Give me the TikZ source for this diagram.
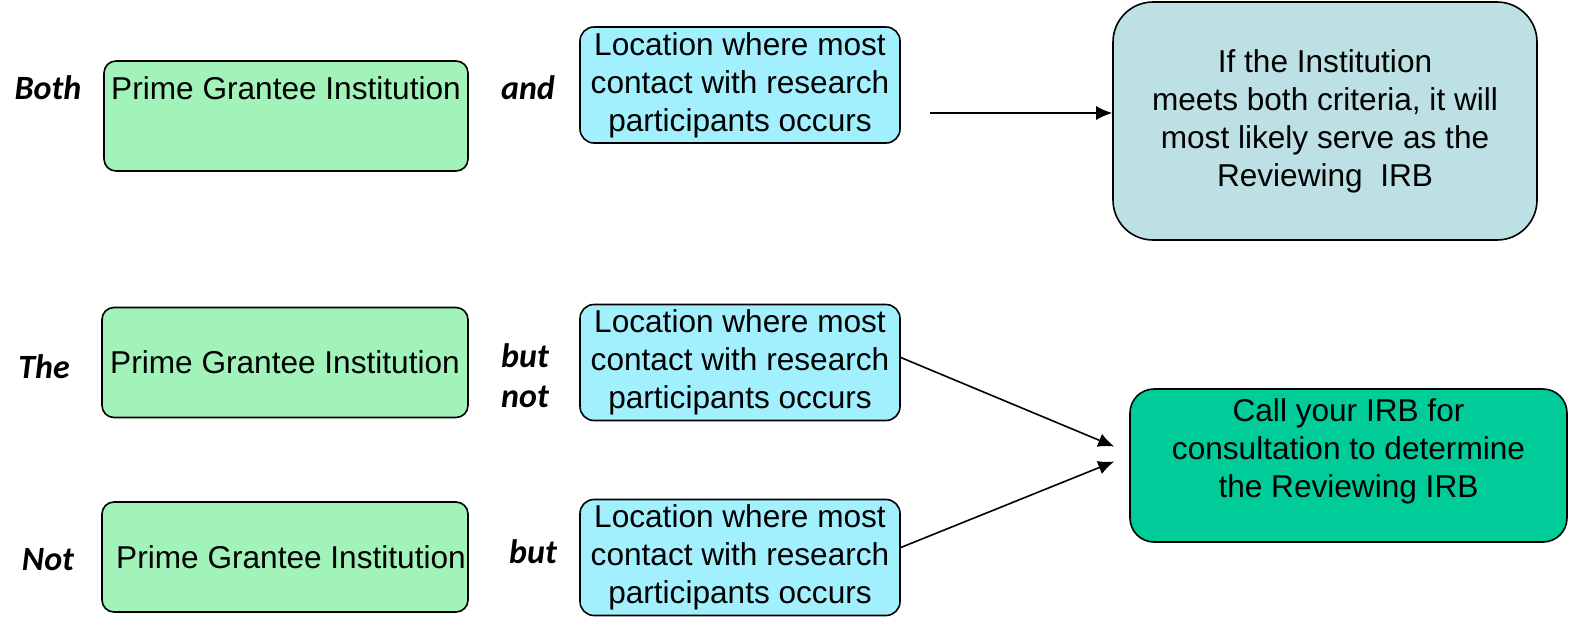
\documentclass[tikz,border=0pt]{standalone}
\usepackage{fontspec}
\setmainfont{Liberation Sans}
\newfontfamily\labelfont{Carlito}
\usetikzlibrary{arrows.meta}
\definecolor{grantgreen}{RGB}{161,243,186}
\definecolor{sitecyan}{RGB}{162,240,254}
\definecolor{outcomeblue}{RGB}{188,224,227}
\definecolor{consultgreen}{RGB}{0,204,153}

\begin{document}
\begin{tikzpicture}[x=0.5pt, y=-0.5pt, >={Latex[length=8pt,width=7pt]}]
 \tikzstyle{every node}=[inner sep=0pt, align=center, font=\fontsize{15.8}{19}\selectfont]
 \tikzstyle{box}=[draw, line width=0.8pt]
 \tikzstyle{grantee}=[box, fill=grantgreen, rounded corners=6pt, minimum width=183pt, minimum height=55pt]
 \tikzstyle{site}=[box, fill=sitecyan, rounded corners=7pt, minimum width=160pt, minimum height=58pt]
 \tikzstyle{word}=[font=\fontsize{17}{20}\selectfont\labelfont\bfseries\itshape]
 \useasboundingbox (0,0) rectangle (1574,618);

 % row 1: both criteria
 \node[word] (both) at (48,88) {Both};
 \node[grantee, text height=18.5pt, text depth=35.5pt, minimum width=182pt] (prime1) at (286,116) {Prime Grantee Institution};
 \node[word] (and) at (528,88) {and};
 \node[site] (loc1) at (740,85) {Location where most\\contact with research\\participants occurs};
 \node[box, fill=outcomeblue, rounded corners=20pt, minimum width=212pt, minimum height=119pt] (serve) at (1325,121)
   {If the Institution\\meets both criteria, it will\\most likely serve as the\\Reviewing\ \ IRB};
 \coordinate (start1) at (930,113);

 % row 2: prime but not location
 \node[word] (the) at (44,367) {The};
 \node[grantee] (prime2) at (285,362.5) {Prime Grantee Institution};
 \node[word] (butnot) at (525,376) {but\\not};
 \node[site] (loc2) at (740,362.5) {Location where most\\contact with research\\participants occurs};

 % row 3: not prime but location
 \node[word] (not) at (48,560) {Not};
 \node[grantee] (prime3) at (285,557) {\hspace*{6pt}Prime Grantee Institution};
 \node[word] (but) at (533,552) {but};
 \node[site] (loc3) at (740,557.5) {Location where most\\contact with research\\participants occurs};

 \node[box, fill=consultgreen, rounded corners=12pt, minimum width=218.5pt, minimum height=76.5pt, text height=54pt, text depth=22.5pt] (call) at (1348.5,465.5)
   {Call your IRB for\\consultation to determine\\the Reviewing IRB};

 \draw[->, line width=0.8pt] (start1) -- (start1 -| serve.west);
 \draw[->, line width=0.8pt] ([shift={(0,-5)}]loc2.east) -- ([shift={(-15,-19)}]call.west);
 \draw[->, line width=0.8pt] ([shift={(0,-10)}]loc3.east) -- ([shift={(-15,-4)}]call.west);
\end{tikzpicture}
\end{document}
